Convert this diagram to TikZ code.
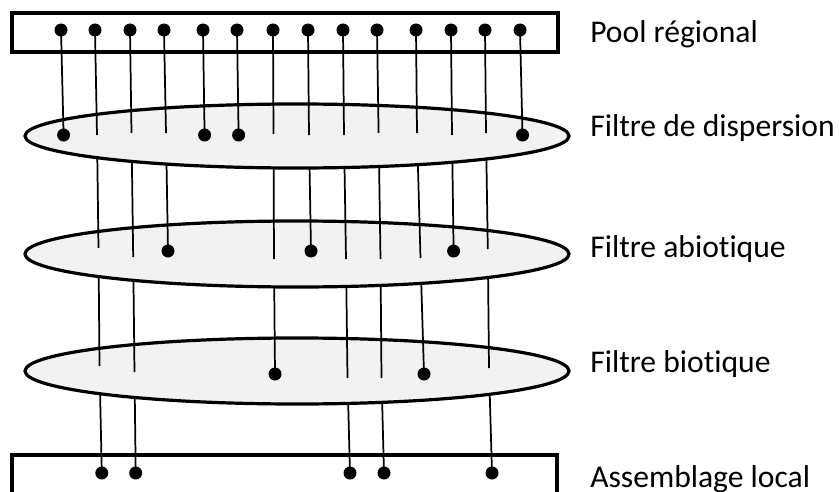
\documentclass[tikz,border=0pt]{standalone}
\usepackage{fontspec}
\setmainfont{Carlito}[Ligatures={NoCommon}]
\usetikzlibrary{shapes.geometric}
\definecolor{lg}{HTML}{F2F2F2}
\begin{document}
\begin{tikzpicture}[x=0.75pt,y=-0.75pt,
  box/.style={draw, line width=2.4pt, fill=white, rectangle, inner sep=0pt},
  filt/.style={draw, line width=2.4pt, fill=lg, ellipse, inner sep=0pt, minimum width=408pt},
  sp/.style={line width=1.3pt},
  dot/.style={circle, fill=black, inner sep=0pt, minimum size=9.75pt},
  lab/.style={anchor=base west, inner sep=0pt, font=\fontsize{23.7pt}{28pt}\selectfont}]
\clip (0,0) rectangle (839,492);
% species coordinates: a top, b filter 1, c filter 2, d filter 3, e local
\coordinate (s1a) at (61,30);   \coordinate (s1b) at (63.6,135);
\coordinate (s2a) at (95,30);   \coordinate (s2b) at (97,135);   \coordinate (s2c) at (98.5,248); \coordinate (s2d) at (99.5,366); \coordinate (s2e) at (101.8,473);
\coordinate (s3a) at (130,30);  \coordinate (s3b) at (131.5,133); \coordinate (s3c) at (133.2,257); \coordinate (s3d) at (134.5,372); \coordinate (s3e) at (135.7,473);
\coordinate (s4a) at (164,30);  \coordinate (s4b) at (166,133);  \coordinate (s4c) at (168,251);
\coordinate (s5a) at (203,30);  \coordinate (s5b) at (204.6,135);
\coordinate (s6a) at (237,30);  \coordinate (s6b) at (238.6,135);
\coordinate (s7a) at (273,30);  \coordinate (s7b) at (273.5,134); \coordinate (s7c) at (274,259); \coordinate (s7d) at (275,374);
\coordinate (s8a) at (308,30);  \coordinate (s8b) at (309,135);  \coordinate (s8c) at (311,251);
\coordinate (s9a) at (343,30);  \coordinate (s9b) at (344,135);  \coordinate (s9c) at (346,259); \coordinate (s9d) at (347.5,378); \coordinate (s9e) at (350,473);
\coordinate (s10a) at (377,30); \coordinate (s10b) at (378.6,133); \coordinate (s10c) at (380.5,259); \coordinate (s10d) at (381.5,378); \coordinate (s10e) at (384,473);
\coordinate (s11a) at (416,30); \coordinate (s11b) at (417,133); \coordinate (s11c) at (420.5,258); \coordinate (s11d) at (424,374);
\coordinate (s12a) at (451,30); \coordinate (s12b) at (452,135); \coordinate (s12c) at (453.6,251);
\coordinate (s13a) at (485,30); \coordinate (s13b) at (486,133); \coordinate (s13c) at (487.8,249); \coordinate (s13d) at (489,368); \coordinate (s13e) at (492,473);
\coordinate (s14a) at (520,30); \coordinate (s14b) at (522.5,135);
% boxes
\node[box, minimum width=409.5pt, minimum height=29.25pt] (pool) at (285,32.5) {};
\node[box, minimum width=408.75pt, minimum height=48.75pt] (loc) at (284.5,487.5) {};
% filter 3 to local
\foreach \s in {2,3,9,10,13} \draw[sp] (s\s d) -- (s\s e);
\node[filt, minimum height=49.5pt] (f3) at (297,371) {};
% filter 2 to filter 3
\foreach \s in {2,3,7,9,10,11,13} \draw[sp] (s\s c) -- (s\s d);
\node[filt, minimum height=49.5pt] (f2) at (297,254) {};
% filter 1 to filter 2
\foreach \s in {2,3,4,7,8,9,10,11,12,13} \draw[sp] (s\s b) -- (s\s c);
\node[filt, minimum height=48pt] (f1) at (297,136) {};
% pool to filter 1
\foreach \s in {1,...,14} \draw[sp] (s\s a) -- (s\s b);
% dots
\foreach \s in {1,...,14} \node[dot] (p\s) at (s\s a) {};
\foreach \s in {1,5,6,14} \node[dot] (q\s) at (s\s b) {};
\foreach \s in {4,8,12} \node[dot] (r\s) at (s\s c) {};
\foreach \s in {7,11} \node[dot] (t\s) at (s\s d) {};
\foreach \s in {2,3,9,10,13} \node[dot] (u\s) at (s\s e) {};
% labels
\node[lab] (l0) at (590,43) {Pool régional};
\node[lab] (l1) at (590,137) {Filtre de dispersion};
\node[lab] (l2) at (590,257) {Filtre abiotique};
\node[lab] (l3) at (590,372) {Filtre biotique};
\node[lab] (l4) at (590,487) {Assemblage local};
\end{tikzpicture}
\end{document}
